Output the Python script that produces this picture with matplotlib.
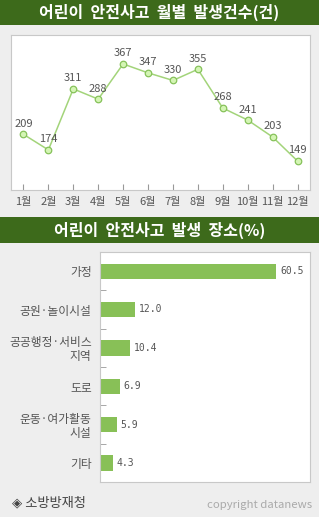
import matplotlib
matplotlib.use("Agg")
import matplotlib.pyplot as plt
import numpy as np

plt.rcParams['font.family'] = ['Noto Sans CJK KR', 'DejaVu Sans']

months = ["1월", "2월", "3월", "4월", "5월", "6월", "7월", "8월", "9월", "10월", "11월", "12월"]
monthly_counts = [209, 174, 311, 288, 367, 347, 330, 355, 268, 241, 203, 149]

places = ["가정", "공원·놀이시설", "공공행정·서비스\n지역", "도로", "운동·여가활동\n시설", "기타"]
place_pct = [60.5, 12.0, 10.4, 6.9, 5.9, 4.3]

title_line = "어린이  안전사고  월별  발생건수(건)"
title_bar = "어린이  안전사고  발생  장소(%)"
source = "◈ 소방방재청"
credit = "copyright datanews"

W, H = 319, 517
bg = "#eeeeee"
band = "#3d6a1b"
spine_c = "#c8c8c8"
txt_c = "#555555"

fig = plt.figure(figsize=(W / 100, H / 100), dpi=100, facecolor=bg)

def rect(x0, y0, x1, y1):
    # pixel box (top-left origin) -> figure fraction
    return [x0 / W, 1 - y1 / H, (x1 - x0) / W, (y1 - y0) / H]

def title_band(y0, y1, text):
    ax = fig.add_axes(rect(0, y0, W, y1))
    ax.set_facecolor(band)
    ax.set_xticks([]); ax.set_yticks([])
    for s in ax.spines.values():
        s.set_visible(False)
    ax.text(0.5, 0.5, text, color="white", fontsize=11.5, fontweight="bold",
            ha="center", va="center", transform=ax.transAxes)

title_band(0, 25, title_line)
title_band(217, 243, title_bar)

# line chart
ax1 = fig.add_axes(rect(11, 35, 310, 190))
x = np.arange(1, len(months) + 1)
ax1.plot(x, monthly_counts, color="#a3d47a", lw=1.1, zorder=2)
ax1.scatter(x, monthly_counts, s=22, facecolor="#d4f5b4", edgecolor="#86c25a", lw=0.9, zorder=3)
for xi, v in zip(x, monthly_counts):
    ax1.annotate(str(v), (xi, v), xytext=(0, 4), textcoords="offset points",
                 ha="center", va="bottom", fontsize=8, color=txt_c)
ax1.set_xlim(0.5, 12.5)
ax1.set_ylim(84, 432)
ax1.set_yticks([])
ax1.set_xticks(x)
ax1.set_xticklabels(months)
ax1.tick_params(axis="x", direction="in", length=4, color="#999999", labelsize=8,
                labelcolor=txt_c, pad=5)
for s in ax1.spines.values():
    s.set_color(spine_c)

# bar chart
ax2 = fig.add_axes(rect(100, 252, 310, 482))
yy = np.arange(len(places))
ax2.barh(yy, place_pct, height=0.4, color="#88c057")
for yi, v in zip(yy, place_pct):
    ax2.text(v + 1.2, yi, f"{v:.1f}", va="center", ha="left", fontsize=7,
             color=txt_c, family="DejaVu Sans Mono")
ax2.set_ylim(len(places) - 0.5, -0.5)
ax2.set_xlim(0, 72)
ax2.set_xticks([])
ax2.set_yticks(yy)
ax2.set_yticklabels(places, fontsize=8.5, color=txt_c, linespacing=1.05)
ax2.tick_params(axis="y", length=0, pad=6)
ax2.set_yticks(np.arange(0.5, len(places) - 1, 1), minor=True)
ax2.tick_params(axis="y", which="minor", direction="in", length=4, color="#999999")
for s in ax2.spines.values():
    s.set_color(spine_c)

fig.text(12 / W, 1 - 503 / H, source, fontsize=9.5, color="#444444", va="center", ha="left")
fig.text(312 / W, 1 - 505 / H, credit, fontsize=8.2, color="#aaaaaa", va="center", ha="right")

fig.savefig("out.png", dpi=100, facecolor=bg)
